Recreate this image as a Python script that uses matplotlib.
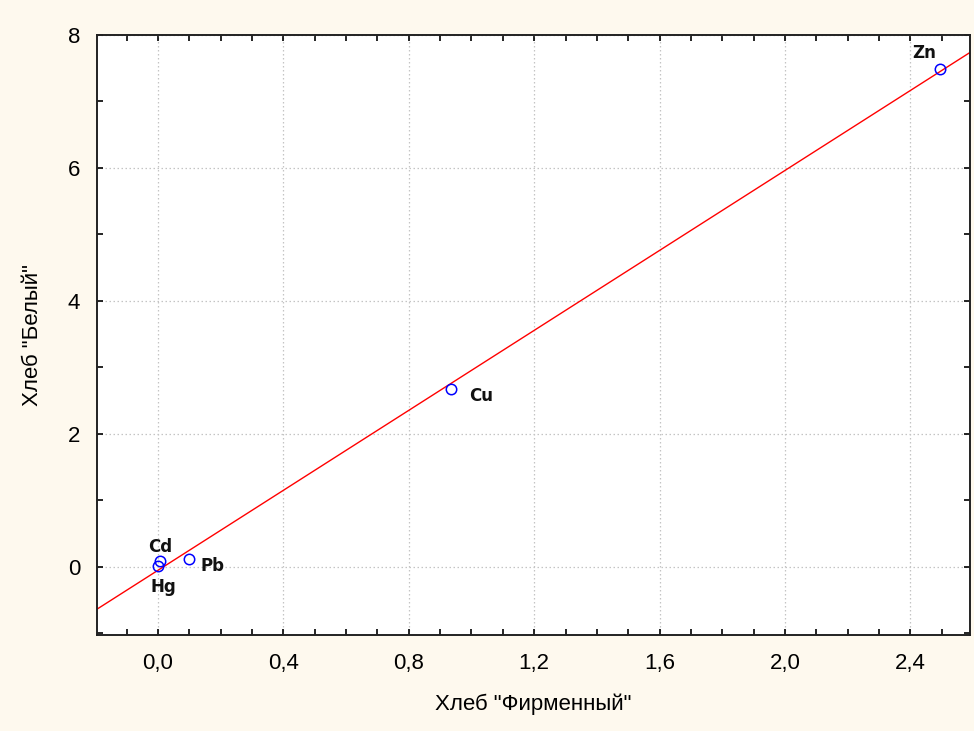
import numpy as np
import matplotlib
matplotlib.use("Agg")
import matplotlib.pyplot as plt
from matplotlib.ticker import MultipleLocator, FuncFormatter

# данные: металлы в хлебе
elements = ["Cd", "Hg", "Pb", "Cu", "Zn"]
firm = [0.007, 0.0, 0.10, 0.935, 2.493]
white = [0.09, 0.01, 0.115, 2.67, 7.48]

# смещения подписей (точки)
offsets = {"Cd": (0, 10), "Hg": (4, -15), "Pb": (17, -5), "Cu": (22, -5), "Zn": (-11, 12)}

plt.rcParams["font.family"] = ["Liberation Sans", "DejaVu Sans"]

fig = plt.figure(figsize=(9.74, 7.31), dpi=100, facecolor="#fef9ee")
ax = fig.add_axes([0.0993, 0.1317, 0.8966, 0.8208])
ax.set_facecolor("white")

k, b = np.polyfit(firm, white, 1)
xmin, xmax = -0.195, 2.59
xs = np.array([xmin, xmax])
ax.plot(xs, k * xs + b, color="red", lw=1.0, zorder=2)

ax.plot(firm, white, "o", mfc="none", mec="blue", mew=1.1, ms=7.5, zorder=3)
for name, xv, yv in zip(elements, firm, white):
    ax.annotate(name, (xv, yv), xytext=offsets[name], textcoords="offset points",
                ha="center", va="center", fontsize=12, fontweight="bold",
                family="DejaVu Sans", color="#111111")

ax.set_xlim(xmin, xmax)
ax.set_ylim(-1.02, 8)
ax.xaxis.set_major_locator(MultipleLocator(0.4))
ax.xaxis.set_minor_locator(MultipleLocator(0.1))
ax.yaxis.set_major_locator(MultipleLocator(2))
ax.yaxis.set_minor_locator(MultipleLocator(1))
ax.xaxis.set_major_formatter(FuncFormatter(lambda v, p: f"{v:.1f}".replace(".", ",").replace("-0,0", "0,0")))
ax.yaxis.set_major_formatter(FuncFormatter(lambda v, p: f"{v:.0f}"))

ax.tick_params(which="both", direction="in", top=True, right=True, length=4, width=1.2,
               labelsize=16, colors="black")
ax.tick_params(axis="x", pad=13)
ax.tick_params(axis="y", pad=12)
ax.grid(True, which="major", color="#c4c4c4", ls=(0, (1.2, 2.0)), lw=0.9)
for s in ax.spines.values():
    s.set_linewidth(1.4)
    s.set_color("#222222")

ax.set_xlabel('Хлеб "Фирменный"', fontsize=16, labelpad=14)
ax.set_ylabel('Хлеб "Белый"', fontsize=16, labelpad=18)

fig.savefig("out.png", dpi=100, facecolor=fig.get_facecolor())
